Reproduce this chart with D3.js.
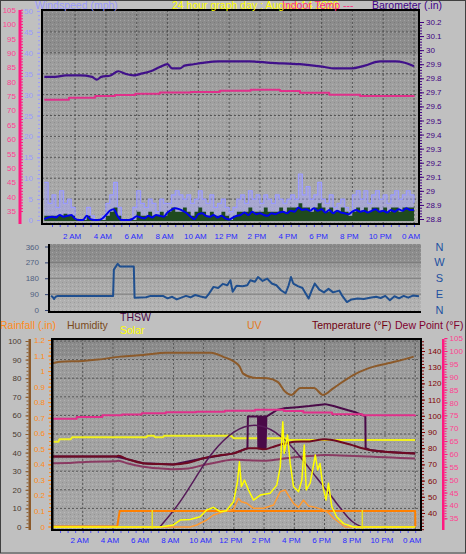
<!DOCTYPE html>
<html><head><meta charset="utf-8">
<script src="https://cdn.jsdelivr.net/npm/d3@7/dist/d3.min.js"></script>
<style>
html,body{margin:0;padding:0;background:#c0c0c0;}
svg{display:block;}
text{font-family:"Liberation Sans",Arial,sans-serif;}
</style></head><body>
<svg id="chart" width="466" height="554"></svg>
<script>
// ================= DATA =================
const hourTicks = [2,4,6,8,10,12,14,16,18,20,22,24];
const hourLabels = ["2 AM","4 AM","6 AM","8 AM","10 AM","12 PM","2 PM","4 PM","6 PM","8 PM","10 PM","0 AM"];
const windTicks = [0,5,10,15,20,25,30,35,40,45,50];
const baroTicks = [28.8,28.9,29.0,29.1,29.2,29.3,29.4,29.5,29.6,29.7,29.8,29.9,30.0,30.1,30.2];
const indoorTicks = [35,40,45,50,55,60,65,70,75,80,85,90,95,100,105];
const dirTicks = [0,90,180,270,360];
const dirLetters = [[360,"N"],[270,"W"],[180,"S"],[90,"E"],[0,"N"]];
const humTicks = [0,10,20,30,40,50,60,70,80,90,100];
const rainTicks = [0,0.1,0.2,0.3,0.4,0.5,0.6,0.7,0.8,0.9,1,1.1,1.2];
const tempTicks = [40,50,60,70,80,90,100,110,120,130,140];

// barometer (inHg) [hour, value]
const barometer = [[0,29.81],[0.7,29.81],[1.4,29.82],[2.3,29.82],[3.1,29.81],[3.4,29.79],[3.7,29.81],[4.3,29.82],[4.8,29.85],[5.3,29.83],[5.8,29.82],[6.2,29.83],[6.9,29.85],[7.5,29.88],[8.0,29.90],[8.3,29.87],[8.8,29.87],[9.1,29.89],[9.7,29.90],[10.3,29.91],[11.3,29.92],[13.3,29.92],[14.7,29.91],[16.6,29.90],[17.9,29.885],[18.9,29.87],[19.9,29.87],[20.8,29.89],[21.8,29.92],[22.8,29.92],[23.4,29.91],[24,29.885]];
// indoor temperature (°F)
const indoorTemp = [[0,73.7],[1.6,74.4],[3.3,75.0],[4.6,75.3],[5.9,75.8],[7.5,76.2],[9.5,76.4],[11.4,76.8],[13.4,77.2],[15.3,76.7],[16.6,76.1],[18.5,75.4],[20.5,75.0],[24,75.1]];
// wind, every 15 minutes from midnight (mph)
const windStepHours = 0.25;
const windGust = [9,4,6,3,7,4,5,3,0,0,0,3,1,0,0,1,4,6,9,3,0,0,0,3,7,4,3,5,4,2,5,4,4,6,7,6,5,6,4,5,7,5,4,6,3,4,5,3,2,3,5,6,4,7,5,6,4,6,5,4,6,5,4,5,6,5,11,6,8,5,6,9,5,4,6,3,4,5,3,2,6,7,5,7,4,6,7,5,6,4,6,7,5,6,7,6,4];
const windSpeed = [1,1,1,1,1,1.5,1,1,0,0,0,1,0,0,0,0,1,2,3,1,0,0,0,0,2,1,1,2,1,1,2,1,2,3,2,2,3,2,1,2,3,2,1,2,1,1,2,1,0,1,2,2,2,3,2,2,2,3,2,2,2,3,2,3,3,3,4,3,3,2,3,4,3,2,3,2,2,3,2,1,2,3,2,3,2,3,3,2,3,2,3,3,2,3,3,3,3];
const windAvg = [0.2,0.6,0.8,0.6,1.2,0.8,1.0,1.2,0.3,0,0,1.0,0.2,0,0,0.3,1.2,2.2,2.6,1.0,0,0,0,0.3,0.9,0.6,0.4,1.0,0.6,1.2,1.0,0.8,1.8,2.4,2.8,2.6,2.2,1.6,0.8,0.2,1.4,1.6,1.0,0.8,1.2,0.6,1.0,0.4,0.1,0.6,1.0,1.2,1.8,1.2,2.0,1.4,1.6,1.2,1.0,1.6,1.4,1.8,2.0,1.6,2.2,2.0,3.0,2.4,2.6,2.2,2.8,2.2,2.6,1.8,2.4,1.6,2.2,1.8,1.6,1.4,2.0,2.4,2.0,2.2,1.8,2.2,2.6,2.0,2.2,1.8,2.4,2.0,2.6,2.2,2.8,2.4,2.4];
// wind direction (degrees)
const windDir = [[0,80],[0.1,75],[0.2,62],[0.3,75],[0.45,80],[4.05,80],[4.1,229],[4.35,262],[4.5,247],[5.4,247],[5.45,69],[6.2,72],[6.5,80],[7.3,80],[7.6,66],[7.9,75],[8.2,60],[8.5,70],[8.8,80],[9.1,72],[9.4,85],[9.7,78],[10.1,70],[10.3,92],[10.6,131],[10.9,125],[11.2,148],[11.5,140],[11.7,169],[11.85,103],[12.1,138],[12.5,135],[12.8,140],[13.0,169],[13.3,160],[13.5,187],[13.8,165],[14.1,178],[14.4,150],[14.7,140],[15.0,112],[15.3,95],[15.5,140],[15.65,187],[15.8,150],[16.1,135],[16.4,125],[16.8,65],[17.0,110],[17.2,150],[17.5,115],[17.8,100],[18.1,120],[18.4,100],[18.8,110],[19.0,80],[19.3,45],[19.6,60],[20.0,65],[20.4,62],[20.8,70],[21.2,75],[21.5,68],[21.8,80],[22.1,55],[22.4,78],[22.7,66],[23.0,80],[23.3,70],[23.6,82],[24,78]];
// humidity (%)
const humidity = [[0,88],[0.5,88.9],[2,89.3],[3,90],[4.5,91.6],[6,92.5],[7.5,93.7],[10.5,93.7],[11.3,91.5],[12,89],[12.4,86],[12.6,82.6],[13.3,80.3],[14.2,80],[14.9,78],[15.4,72.7],[15.8,71],[16.4,74.7],[17.3,74.7],[17.9,71],[18.6,74.7],[19.9,81.7],[20.8,85],[22.2,88],[23.2,90],[23.9,91.6]];
// outdoor temperature, dew point, THSW (°F)
const temperature = [[0,74.8],[4.2,74.8],[4.35,75.3],[5,73.1],[6,70.7],[7,70.2],[8,70],[9,71],[10,73.8],[11,75.5],[12,76.8],[12.5,78.5],[13,80],[13.5,80],[14,79.3],[14.5,80.5],[15,82],[15.5,83],[16,84],[17,84.2],[18,85.5],[18.5,85],[19,84],[19.5,82.8],[20,81.4],[20.5,80],[21,78.9],[22,77.8],[23,77.2],[24,76.8]];
const dewPoint = [[0,70.7],[1,70.8],[2.5,71.7],[4.2,71.9],[4.35,72.3],[5,70.5],[6,68.6],[7,67.6],[8,67],[9,67.5],[10,69.6],[11,71.5],[12,73],[13,72.5],[14,72.3],[15,73.2],[16,74.4],[17,75.2],[18,75.8],[19,75.5],[20,75.2],[21,74.8],[22,74.4],[23,74],[24,73.6]];
const thsw = [[0,74.8],[4.2,74.8],[5,73.1],[6,70.7],[8,70],[10,73.8],[12,76.8],[12.9,80],[12.93,99.5],[13.6,99.5],[13.62,80],[13.65,99.5],[13.68,80],[13.71,99.5],[13.74,80],[13.77,99.5],[13.8,80],[13.83,99.5],[13.86,80],[13.9,80],[13.95,99.5],[13.98,80],[14.01,99.5],[14.04,80],[14.07,99.5],[14.1,80],[14.15,99.5],[14.5,101.5],[14.85,103.6],[15.3,104.6],[16.2,105.3],[17,106],[18.05,107.2],[18.6,106],[19.5,103.6],[20.1,102],[20.7,99.8],[20.72,80],[21,78.9],[22,77.8],[24,76.8]];
// solar (W/m²), max solar curve, solar index line
const solar = [[0,0],[7.1,0],[8.0,11],[8.45,37],[9.1,40],[9.77,55],[10.2,91],[10.65,105],[11.1,82],[11.5,87],[11.98,135],[12.24,242],[12.37,349],[12.5,215],[12.7,251],[12.97,198],[13.3,144],[13.75,171],[14.4,180],[14.84,224],[15.07,322],[15.24,563],[15.33,394],[15.55,492],[15.73,340],[15.95,215],[16.28,189],[16.5,251],[16.66,438],[16.79,198],[17.05,234],[17.39,385],[17.55,305],[17.7,340],[17.9,215],[18.1,144],[18.26,234],[18.48,109],[18.8,55],[19.26,18],[19.93,0],[24,0]];
const solarMax = [[7.1,0],[8.45,127],[9.77,305],[10.6,403],[11.95,519],[13.6,563],[15.3,483],[16.4,376],[17.5,260],[18.4,171],[19.3,73],[19.9,20],[20.5,0]];
const solarLevel = [[0,456],[0.4,456],[0.45,469],[1.2,469],[1.3,480],[6.2,480],[6.3,488],[6.7,488],[6.8,480],[7.3,480],[7.4,488],[11.8,488],[12.0,474],[15.4,474],[15.5,465],[24,465]];
const sunMarks = [6.6, 20.5];
// UV index
const uv = [[0,0],[9.1,0],[9.55,0.13],[10.2,0.45],[10.65,0.77],[11.3,0.98],[11.98,1.13],[12.3,1.84],[12.5,1.62],[12.86,1.52],[13.3,1.2],[13.97,1.2],[14.63,1.41],[15.07,2.27],[15.4,2.37],[15.6,2.05],[15.95,1.52],[16.28,1.26],[16.6,1.73],[16.95,1.35],[17.39,1.26],[17.83,1.13],[18.26,0.92],[18.6,0.56],[19.04,0.24],[19.37,0],[24,0]];
// rainfall (in)
const rain = [[0,0],[4.28,0],[4.45,0.1],[24,0.1],[24.01,0]];

// ================= DRAWING =================
const svg = d3.select("#chart");
const defs = svg.append("defs");
function grad(id, stops){
  const g = defs.append("linearGradient").attr("id",id).attr("x1",0).attr("y1",0).attr("x2",0).attr("y2",1);
  stops.forEach(s=>g.append("stop").attr("offset",s[0]).attr("stop-color",s[1]));
}
grad("gTop",[[0,"#8b8b8b"],[0.2,"#8d8d8d"],[0.21,"#9c9c9c"],[1,"#ababab"]]);
grad("gMid",[[0,"#898989"],[0.25,"#8f8f8f"],[0.4,"#a4a4a4"],[1,"#b4b4b4"]]);
grad("gBot",[[0,"#8b8b8b"],[0.09,"#8d8d8d"],[0.1,"#9b9b9b"],[1,"#a9a9a9"]]);
const pat = defs.append("pattern").attr("id","speck").attr("width",4).attr("height",4).attr("patternUnits","userSpaceOnUse");
pat.append("rect").attr("x",0).attr("y",0).attr("width",1).attr("height",1).attr("fill","#ffffff").attr("opacity",0.22);
pat.append("rect").attr("x",2).attr("y",2).attr("width",1).attr("height",1).attr("fill","#000000").attr("opacity",0.12);

// frame
svg.append("rect").attr("x",0.5).attr("y",0.5).attr("width",465).attr("height",552.5).attr("fill","none").attr("stroke","#404040").attr("stroke-width",1);

function panel(id, x0, y0, x1, y1, gradId){
  defs.append("clipPath").attr("id",id).append("rect").attr("x",x0).attr("y",y0).attr("width",x1-x0).attr("height",y1-y0);
  svg.append("rect").attr("x",x0).attr("y",y0).attr("width",x1-x0).attr("height",y1-y0).attr("fill",`url(#${gradId})`);
  svg.append("rect").attr("x",x0).attr("y",y0).attr("width",x1-x0).attr("height",y1-y0).attr("fill","url(#speck)");
  return svg.append("g").attr("clip-path",`url(#${id})`);
}
function line(g, data, xs, ys, color, w, curve){
  return g.append("path").datum(data).attr("fill","none").attr("stroke",color).attr("stroke-width",w)
    .attr("stroke-linejoin","round")
    .attr("d", d3.line().x(d=>xs(d[0])).y(d=>ys(d[1])).curve(curve||d3.curveLinear));
}
function styleAxis(g, color, textColor, size){
  g.select(".domain").remove();
  g.selectAll(".tick line").attr("stroke",color);
  g.selectAll(".tick text").attr("fill",textColor).style("font-size",(size||8)+"px").style("font-family","'Liberation Sans',Arial,sans-serif");
  return g;
}
function minor(axisFn, x, scale, vals, size, color){
  const g = svg.append("g").attr("transform",`translate(${x},0)`).call(axisFn(scale).tickValues(vals).tickSize(size).tickFormat(""));
  g.select(".domain").remove();
  g.selectAll(".tick line").attr("stroke",color);
}
function rangeVals(a,b,s){ const out=[]; for(let v=a; v<=b+1e-9; v+=s) out.push(+v.toFixed(4)); return out; }

// ---------- TOP PANEL ----------
const T = {x0:42, y0:10, x1:419, y1:224};
const xTop = d3.scaleLinear().domain([0,24]).range([44.3,414]);
const yWind = d3.scaleLinear().domain([0,50]).range([220,11]);
const yBaro = d3.scaleLinear().domain([28.8,30.2]).range([219,22]);
const yInTop = d3.scaleLinear().domain([35,105]).range([211,9.7]);
const gTop = panel("cTop",T.x0,T.y0,T.x1,T.y1,"gTop");
gTop.selectAll(".vg").data(hourTicks).enter().append("line")
  .attr("x1",d=>xTop(d)).attr("x2",d=>xTop(d)).attr("y1",T.y0).attr("y2",T.y1)
  .attr("stroke","#555").attr("stroke-dasharray","2,2");
gTop.selectAll(".hg").data(windTicks.filter(d=>d>0&&d<50)).enter().append("line")
  .attr("x1",T.x0).attr("x2",T.x1).attr("y1",d=>yWind(d)).attr("y2",d=>yWind(d))
  .attr("stroke","#555").attr("stroke-dasharray","2,2");
const windH = windGust.map((_,i)=>i*windStepHours);
const gustPts = windGust.map((v,i)=>[windH[i],v]);
gTop.append("path").datum(gustPts).attr("fill","#a4a4ff").attr("opacity",0.45)
  .attr("d",d3.area().x(d=>xTop(d[0])).y0(yWind(0)).y1(d=>yWind(d[1])).curve(d3.curveStepAfter));
line(gTop, gustPts, xTop, yWind, "#9a9aff", 1.2, d3.curveStepAfter);
const spdPts = windSpeed.map((v,i)=>[windH[i],v]);
gTop.append("path").datum(spdPts).attr("fill","#1f4a1f")
  .attr("d",d3.area().x(d=>xTop(d[0])).y0(yWind(0)+1).y1(d=>yWind(d[1])).curve(d3.curveStepAfter));
line(gTop, windAvg.map((v,i)=>[windH[i],v]), xTop, yWind, "#0000ee", 2, d3.curveMonotoneX);
line(gTop, indoorTemp, xTop, yInTop, "#e0308a", 2, d3.curveStepAfter);
line(gTop, barometer, xTop, yBaro, "#40108a", 2.2, d3.curveMonotoneX);
svg.append("rect").attr("x",T.x0).attr("y",T.y0).attr("width",T.x1-T.x0).attr("height",T.y1-T.y0)
  .attr("fill","none").attr("stroke","#000").attr("stroke-width",2);
styleAxis(svg.append("g").attr("transform","translate(40,0)").call(d3.axisLeft(yWind).tickValues(windTicks).tickSize(3).tickPadding(4)),"#9a9aff","#9a9aff");
minor(d3.axisLeft,40,yWind,rangeVals(0,50,1),2,"#9a9aff");
svg.append("rect").attr("x",18.5).attr("y",10).attr("width",3).attr("height",214).attr("fill","#ff1a80");
styleAxis(svg.append("g").attr("transform","translate(19,0)").call(d3.axisLeft(yInTop).tickValues(indoorTicks).tickSize(0).tickPadding(3)),"#ff1a80","#ff4090");
minor(d3.axisRight,21,yInTop,rangeVals(35,105,1),2,"#ff1a80");
styleAxis(svg.append("g").attr("transform","translate(420,0)").call(d3.axisRight(yBaro).tickValues(baroTicks).tickSize(4).tickPadding(2).tickFormat(d=>+d.toFixed(1)+"")),"#400080","#400080");
minor(d3.axisRight,420,yBaro,rangeVals(28.8,30.2,0.02),2,"#400080");
svg.append("g").selectAll("text").data(hourTicks).enter().append("text")
  .attr("x",d=>xTop(d)-3).attr("y",238.5).attr("text-anchor","middle")
  .attr("fill","#2a2aff").style("font-size","8px").text((d,i)=>hourLabels[i]);
svg.append("g").attr("transform","translate(0,225)").call(d3.axisBottom(xTop).tickValues(rangeVals(0.5,24,0.5)).tickSize(2).tickFormat("")).call(g=>{g.select(".domain").remove();g.selectAll(".tick line").attr("stroke","#5050ff");});

// ---------- MIDDLE PANEL ----------
const M = {x0:49, y0:244, x1:421, y1:312};
const xMid = d3.scaleLinear().domain([0,24]).range([51,419]);
const yDir = d3.scaleLinear().domain([0,360]).range([310,246.5]);
const gMid = panel("cMid",M.x0,M.y0,M.x1,M.y1,"gMid");
gMid.selectAll(".hg").data([90,180,270]).enter().append("line")
  .attr("x1",M.x0).attr("x2",M.x1).attr("y1",d=>yDir(d)).attr("y2",d=>yDir(d)).attr("stroke","#7c7c7c");
line(gMid, windDir, xMid, yDir, "#1f4f8f", 2);
svg.append("line").attr("x1",M.x0).attr("x2",M.x0).attr("y1",M.y0).attr("y2",M.y1+1).attr("stroke","#000").attr("stroke-width",2);
svg.append("line").attr("x1",M.x0).attr("x2",M.x1).attr("y1",M.y1).attr("y2",M.y1).attr("stroke","#000").attr("stroke-width",2);
styleAxis(svg.append("g").attr("transform","translate(48,0)").call(d3.axisLeft(yDir).tickValues(dirTicks).tickSize(3).tickPadding(6)),"#304070","#506080");
svg.append("g").selectAll("text").data(dirLetters).enter().append("text")
  .attr("x",439.5).attr("y",d=>yDir(d[0])+4).attr("text-anchor","middle")
  .attr("fill","#2050a0").style("font-size","11px").text(d=>d[1]);

// ---------- BOTTOM PANEL ----------
const B = {x0:52, y0:339, x1:421, y1:530};
const xBot = d3.scaleLinear().domain([0,24]).range([52.5,415.2]);
const yHum = d3.scaleLinear().domain([0,100]).range([527,341]);
const yRain = d3.scaleLinear().domain([0,1.2]).range([526.5,340]);
const yTemp = d3.scaleLinear().domain([40,140]).range([513,351]);
const yInBot = d3.scaleLinear().domain([35,100]).range([518.3,351]);
const ySolar = d3.scaleLinear().domain([0,1000]).range([527,340]);
const yUV = d3.scaleLinear().domain([0,12]).range([527,340]);
const gBot = panel("cBot",B.x0,B.y0,B.x1,B.y1,"gBot");
gBot.selectAll(".vg").data(hourTicks).enter().append("line")
  .attr("x1",d=>xBot(d)).attr("x2",d=>xBot(d)).attr("y1",B.y0).attr("y2",B.y1)
  .attr("stroke","#555").attr("stroke-dasharray","2,2");
gBot.selectAll(".hg").data(humTicks.filter(d=>d>0)).enter().append("line")
  .attr("x1",B.x0).attr("x2",B.x1).attr("y1",d=>yHum(d)).attr("y2",d=>yHum(d))
  .attr("stroke","#555").attr("stroke-dasharray","2,2");
line(gBot, solarLevel, xBot, ySolar, "#f0f020", 2);
line(gBot, dewPoint, xBot, yTemp, "#8a3a62", 2, d3.curveMonotoneX);
line(gBot, thsw, xBot, yTemp, "#4a0a48", 2);
line(gBot, temperature, xBot, yTemp, "#6e0a22", 2, d3.curveMonotoneX);
line(gBot, humidity, xBot, yHum, "#8c5a2a", 2, d3.curveMonotoneX);
line(gBot, indoorTemp, xBot, yInBot, "#e0308a", 2, d3.curveStepAfter);
line(gBot, solarMax, xBot, ySolar, "#561a58", 1.5, d3.curveBasis);
line(gBot, rain, xBot, yRain, "#ff8000", 2);
line(gBot, uv, xBot, yUV, "#ff9a30", 1.5);
line(gBot, solar, xBot, ySolar, "#ffff00", 1.5);
gBot.selectAll(".sm").data(sunMarks).enter().append("line")
  .attr("x1",d=>xBot(d)).attr("x2",d=>xBot(d)).attr("y1",510).attr("y2",530).attr("stroke","#e8e020").attr("stroke-width",1.5);
svg.append("rect").attr("x",B.x0).attr("y",B.y0).attr("width",B.x1-B.x0).attr("height",B.y1-B.y0)
  .attr("fill","none").attr("stroke","#000").attr("stroke-width",2);
svg.append("line").attr("x1",B.x0+0.5).attr("x2",B.x0+0.5).attr("y1",B.y0).attr("y2",B.y1+1).attr("stroke","#000").attr("stroke-width",2);
svg.append("rect").attr("x",28.5).attr("y",339).attr("width",2.5).attr("height",191).attr("fill","#8c5a2a");
styleAxis(svg.append("g").attr("transform","translate(28.5,0)").call(d3.axisLeft(yHum).tickValues(humTicks).tickSize(3).tickPadding(4)),"#8c5a2a","#4a3a30");
minor(d3.axisLeft,28.5,yHum,rangeVals(0,100,2),2,"#8c5a2a");
styleAxis(svg.append("g").attr("transform","translate(51,0)").call(d3.axisLeft(yRain).tickValues(rainTicks).tickSize(3).tickPadding(3).tickFormat(d=>+d.toFixed(1)+"")),"#ff8a1a","#ff8a1a");
minor(d3.axisLeft,51,yRain,rangeVals(0,1.2,0.025),2,"#ff8a1a");
styleAxis(svg.append("g").attr("transform","translate(422,0)").call(d3.axisRight(yTemp).tickValues(tempTicks).tickSize(3).tickPadding(3)),"#800000","#800000");
minor(d3.axisRight,422,yTemp,rangeVals(30,146,2),2,"#800000");
svg.append("rect").attr("x",442).attr("y",339).attr("width",2.5).attr("height",191).attr("fill","#ff1a80");
styleAxis(svg.append("g").attr("transform","translate(444.5,0)").call(d3.axisRight(yInBot).tickValues(indoorTicks).tickSize(3).tickPadding(2)),"#ff1a80","#ff4090");
minor(d3.axisRight,444.5,yInBot,rangeVals(35,105,1),2,"#ff1a80");
svg.append("g").selectAll("text").data(hourTicks).enter().append("text")
  .attr("x",d=>xBot(d)-3).attr("y",543).attr("text-anchor","middle")
  .attr("fill","#2a2aff").style("font-size","8px").text((d,i)=>hourLabels[i]);
svg.append("g").attr("transform","translate(0,531)").call(d3.axisBottom(xBot).tickValues(rangeVals(0.5,24,0.5)).tickSize(2).tickFormat("")).call(g=>{g.select(".domain").remove();g.selectAll(".tick line").attr("stroke","#5050ff");});

// ---------- LEGENDS ----------
const legends = [
  {t:"Windspeed (mph)", x:35, y:9, c:"#9a9aff"},
  {t:"24 hour graph day : August 14 2026", x:172, y:9, c:"#ffff00"},
  {t:"Indoor Temp ---", x:282, y:9, c:"#ff2a80"},
  {t:"Barometer (.in)", x:372, y:9, c:"#40008a"},
  {t:"Rainfall (.in)", x:0, y:329, c:"#ff8a1a"},
  {t:"Humidity", x:67, y:329, c:"#7a4a1a"},
  {t:"THSW", x:120, y:321, c:"#4a0a48"},
  {t:"Solar", x:120, y:334, c:"#ffff00"},
  {t:"UV", x:247, y:329, c:"#e07a20"},
  {t:"Temperature (°F)", x:312, y:329, c:"#700010"},
  {t:"Dew Point (°F)", x:395, y:329, c:"#800030"}
];
svg.append("g").selectAll("text").data(legends).enter().append("text")
  .attr("x",d=>d.x).attr("y",d=>d.y).attr("fill",d=>d.c).style("font-size","10.5px").text(d=>d.t);
</script></body></html>
